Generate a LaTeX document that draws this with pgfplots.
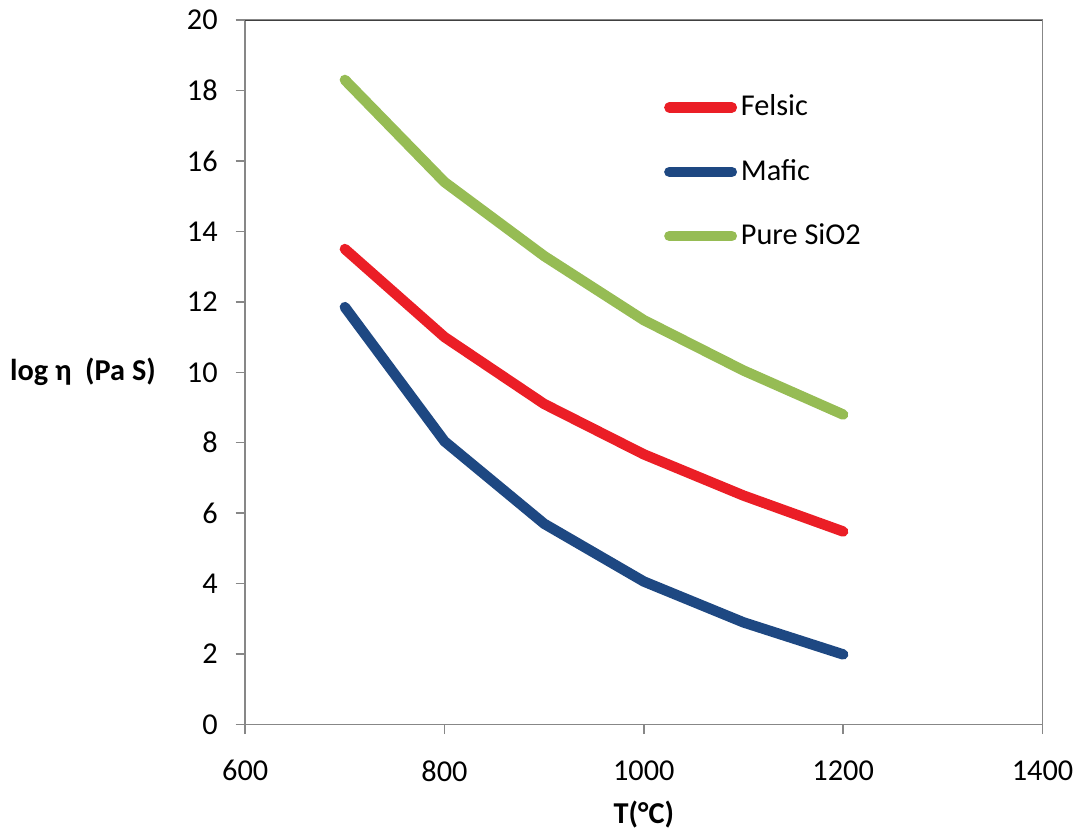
\documentclass[border=0pt]{standalone}
\usepackage{pgfplots}
\pgfplotsset{compat=1.18}
\usepackage{fontspec}
\setmainfont{Carlito}
\definecolor{cred}{RGB}{235,30,38}
\definecolor{cblue}{RGB}{30,72,130}
\definecolor{cgreen}{RGB}{150,188,84}
\definecolor{axgray}{RGB}{135,135,135}
\begin{document}
\fontsize{16pt}{19pt}\selectfont
\begin{tikzpicture}
\begin{axis}[
  width=421pt, height=372pt, scale only axis,
  xmin=600, xmax=1400, ymin=0, ymax=20,
  xtick={600,800,...,1400}, ytick={0,2,...,20},
  xtick pos=bottom, ytick pos=left,
  tick align=outside, major tick length=5pt,
  tick style={axgray, line width=0.8pt},
  axis line style={axgray, line width=0.8pt},
  /pgf/number format/assume math mode=true,
  /pgf/number format/1000 sep={},
  ticklabel style={font=\fontsize{16pt}{19pt}\selectfont},
  xticklabel style={yshift=-11.8pt, inner sep=2pt},
  yticklabel style={xshift=-4pt},
  xlabel={\textbf{T(°C)}},
  xlabel style={font=\fontsize{16pt}{19pt}\selectfont, yshift=-3pt},
  ylabel={\textbf{log η\ \ (Pa S)}},
  ylabel style={rotate=-90, font=\fontsize{16pt}{19pt}\selectfont, at={(axis description cs:-0.099,0.5)}, anchor=east},
  legend style={draw=none, fill=none, at={(axis description cs:0.525,0.9)}, anchor=north west,
    font=\fontsize{16pt}{19pt}\selectfont, row sep=16.5pt, inner sep=0pt,
    legend cell align=left},
  legend image code/.code={\draw[#1, line width=5.5pt, line cap=round] (0pt,0pt) -- (33pt,0pt);},
]
\addplot[cred, line width=5.5pt, line cap=round, line join=round] coordinates {
 (700,13.5) (800,11.0) (900,9.1) (1000,7.67) (1100,6.5) (1200,5.48)};
\addlegendentry{Felsic}
\addplot[cblue, line width=5.5pt, line cap=round, line join=round] coordinates {
 (700,11.85) (800,8.04) (900,5.7) (1000,4.06) (1100,2.9) (1200,1.99)};
\addlegendentry{Mafic}
\addplot[cgreen, line width=5.5pt, line cap=round, line join=round] coordinates {
 (700,18.3) (800,15.4) (900,13.3) (1000,11.48) (1100,10.05) (1200,8.8)};
\addlegendentry{Pure SiO2}
\draw[black!75, line width=0.8pt] (rel axis cs:0,1) -- (rel axis cs:1,1);
\end{axis}
\end{tikzpicture}
\end{document}
